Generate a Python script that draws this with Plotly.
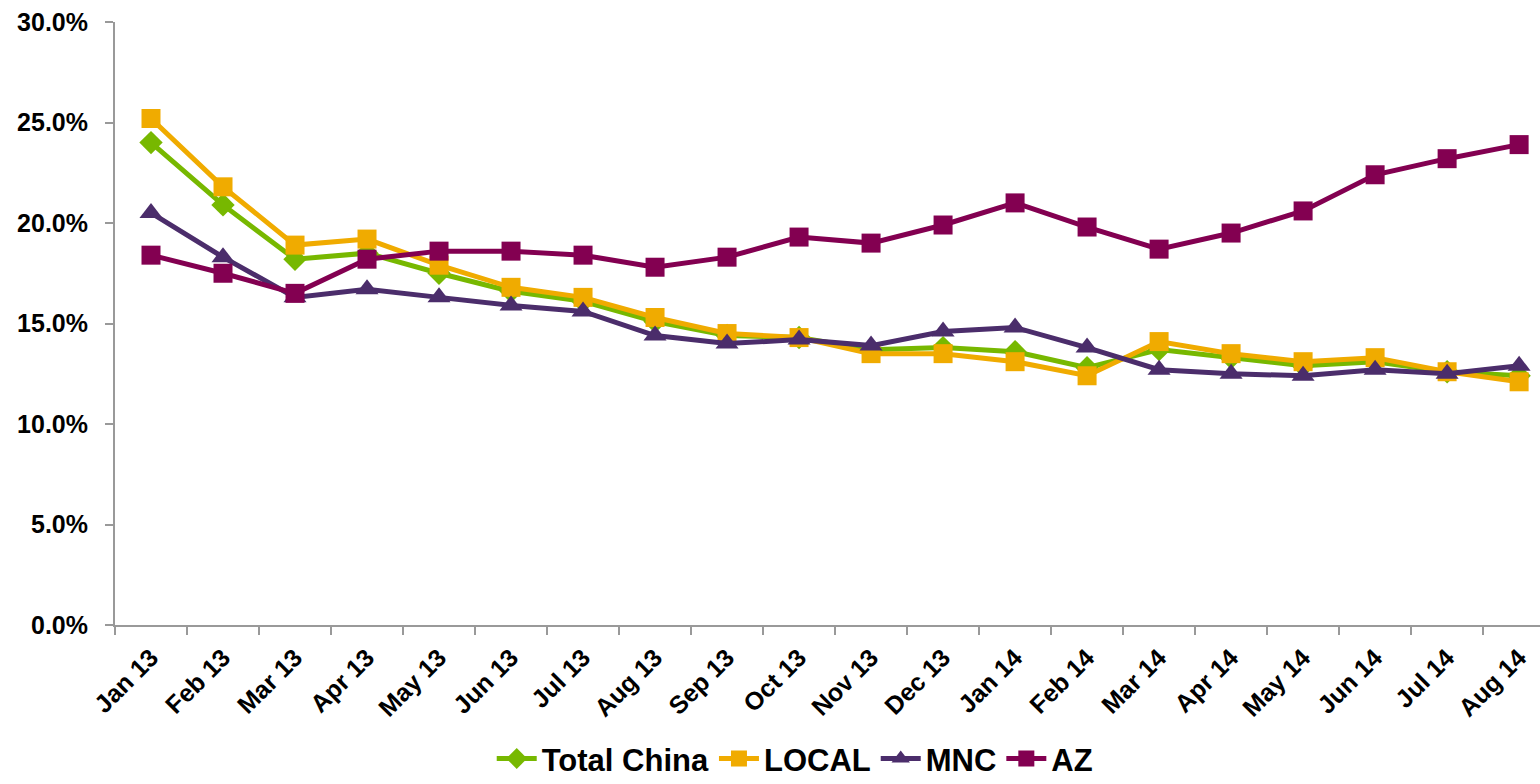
import plotly.graph_objects as go

months = ["Jan 13", "Feb 13", "Mar 13", "Apr 13", "May 13", "Jun 13", "Jul 13", "Aug 13",
          "Sep 13", "Oct 13", "Nov 13", "Dec 13", "Jan 14", "Feb 14", "Mar 14", "Apr 14",
          "May 14", "Jun 14", "Jul 14", "Aug 14"]

total_china = [24.0, 20.9, 18.2, 18.5, 17.5, 16.6, 16.1, 15.1, 14.4, 14.3, 13.7, 13.8,
               13.6, 12.8, 13.7, 13.3, 12.9, 13.1, 12.6, 12.4]
local = [25.2, 21.8, 18.9, 19.2, 17.9, 16.8, 16.3, 15.3, 14.5, 14.3, 13.5, 13.5,
         13.1, 12.4, 14.1, 13.5, 13.1, 13.3, 12.6, 12.1]
mnc = [20.5, 18.3, 16.3, 16.7, 16.3, 15.9, 15.6, 14.4, 14.0, 14.2, 13.9, 14.6,
       14.8, 13.8, 12.7, 12.5, 12.4, 12.7, 12.5, 12.9]
az = [18.4, 17.5, 16.5, 18.2, 18.6, 18.6, 18.4, 17.8, 18.3, 19.3, 19.0, 19.9,
      21.0, 19.8, 18.7, 19.5, 20.6, 22.4, 23.2, 23.9]

series = [
    ("Total China", total_china, "#77B800", "diamond", 18),
    ("LOCAL", local, "#F0AB00", "square", 19),
    ("MNC", mnc, "#4B2D6B", "triangle-up", 20),
    ("AZ", az, "#830051", "square", 19),
]

fig = go.Figure()
for name, vals, color, sym, size in series:
    fig.add_trace(go.Scatter(
        x=months, y=[v / 100 for v in vals], name=name, mode="lines+markers",
        line=dict(color=color, width=5),
        marker=dict(symbol=sym, size=size, color=color),
    ))

axis_font = dict(family="Liberation Sans, Arial, sans-serif", size=25, color="#000000",
                 weight="bold")

fig.update_layout(
    width=1540, height=784,
    margin=dict(l=115, r=0, t=22, b=159, autoexpand=False),
    paper_bgcolor="white", plot_bgcolor="white",
    showlegend=True,
    legend=dict(orientation="h", x=0.477, xanchor="center", y=-0.222, yanchor="middle",
                font=dict(family="Liberation Sans, Arial, sans-serif", size=31,
                          color="#000000", weight="bold"),
                itemwidth=40, tracegroupgap=0, traceorder="normal"),
    xaxis=dict(
        type="category", range=[-0.5, 19.29], tickson="boundaries",
        showline=True, linecolor="#999999", linewidth=2,
        ticks="outside", ticklen=8, tickwidth=2, tickcolor="#999999",
        tickangle=-45, tickfont=axis_font, showgrid=False, zeroline=False,
        automargin=False, ticklabelstandoff=6,
    ),
    yaxis=dict(
        range=[0, 0.30], dtick=0.05, tickformat=".1%",
        showline=True, linecolor="#999999", linewidth=2,
        ticks="outside", ticklen=8, tickwidth=2, tickcolor="#999999",
        tickfont=axis_font, showgrid=False, zeroline=False,
        automargin=False, ticklabelstandoff=12,
    ),
    font=dict(family="Liberation Sans, Arial, sans-serif", color="#000000"),
)

fig.write_html("out.html")
